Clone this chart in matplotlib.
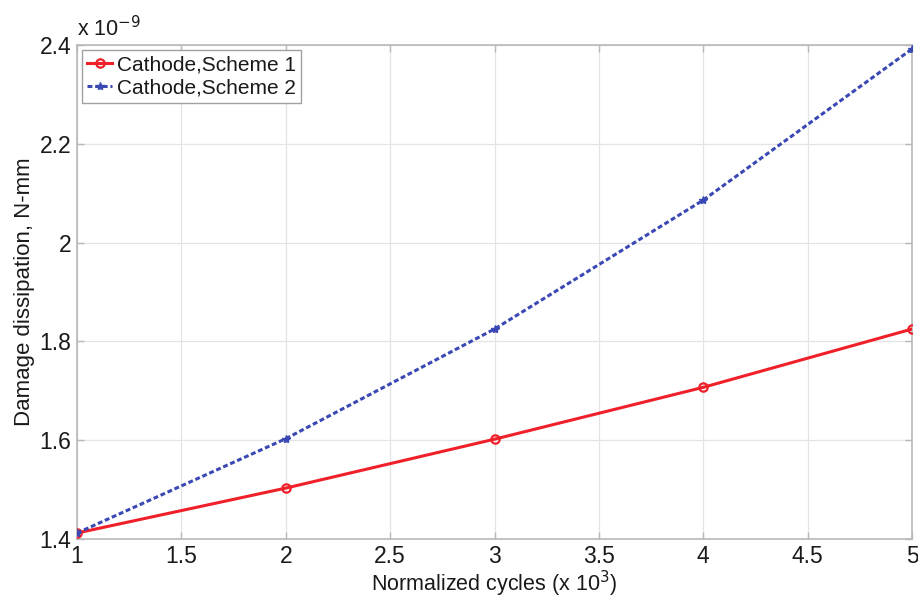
import matplotlib
matplotlib.use("Agg")
import matplotlib.pyplot as plt

plt.rcParams['font.family'] = ['Liberation Sans', 'DejaVu Sans']

cycles = [1, 2, 3, 4, 5]
scheme1 = [1.412, 1.503, 1.602, 1.707, 1.825]
scheme2 = [1.412, 1.603, 1.825, 2.086, 2.392]
label1 = "Cathode,Scheme 1"
label2 = "Cathode,Scheme 2"
xticks = [1, 1.5, 2, 2.5, 3, 3.5, 4, 4.5, 5]
xticklabels = ["1", "1.5", "2", "2.5", "3", "3.5", "4", "4.5", "5"]
yticks = [1.4, 1.6, 1.8, 2.0, 2.2, 2.4]
yticklabels = ["1.4", "1.6", "1.8", "2", "2.2", "2.4"]

fig = plt.figure(figsize=(9.18, 5.99), dpi=100)
ax = fig.add_axes([0.0839, 0.1002, 0.9096, 0.8247])

ax.plot(cycles, scheme1, color='#f0202a', lw=2.2, marker='o', ms=6,
        mfc='none', mec='#f0202a', mew=1.6, label=label1, zorder=3)
ax.plot(cycles, scheme2, color='#3a48b4', lw=2.2, ls=(0, (1.6, 0.9)), marker='*', ms=6,
        mfc='#3a48b4', mec='#3a48b4', label=label2, zorder=4)

ax.set_xlim(1, 5)
ax.set_ylim(1.4, 2.4)
ax.set_xticks(xticks)
ax.set_xticklabels(xticklabels)
ax.set_yticks(yticks)
ax.set_yticklabels(yticklabels)
ax.grid(True, color='#e4e4e4', lw=0.9, ls='-')
ax.set_axisbelow(True)
ax.tick_params(direction='in', length=5, width=1, color='#b8b8b8',
               labelsize=16.5, labelcolor='#1a1a1a', top=True, right=True, pad=4)
for s in ax.spines.values():
    s.set_color('#b8b8b8')
    s.set_linewidth(1.2)

ax.set_xlabel(r"Normalized cycles (x 10$^{3}$)", fontsize=15.5, color='#1a1a1a', labelpad=1)
ax.set_ylabel("Damage dissipation, N-mm", fontsize=16, color='#1a1a1a', labelpad=3)
ax.text(0.0, 1.008, r"x 10$^{-9}$", transform=ax.transAxes, fontsize=15.5,
        color='#1a1a1a', ha='left', va='bottom')

leg = ax.legend(loc='upper left', fontsize=15, handlelength=1.2, handletextpad=0.2,
                borderpad=0.25, labelspacing=0.2, borderaxespad=0.25,
                fancybox=False, framealpha=1, edgecolor='#a0a0a0')
leg.get_frame().set_linewidth(1.0)
for t in leg.get_texts():
    t.set_color('#1a1a1a')

fig.savefig("out.png", dpi=100)
